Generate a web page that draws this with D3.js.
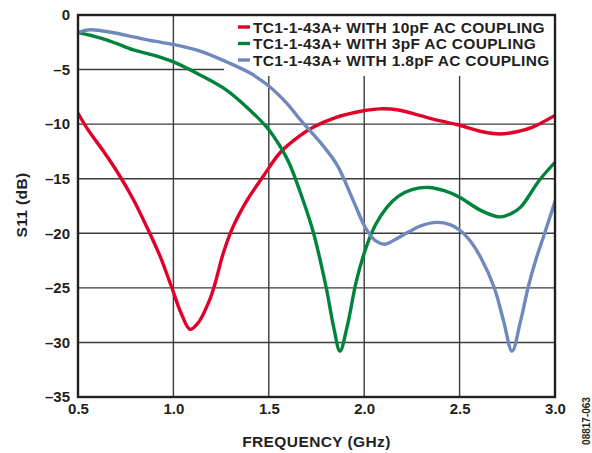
<!DOCTYPE html>
<html><head><meta charset="utf-8">
<script src="https://cdn.jsdelivr.net/npm/d3@7"></script>
<style>body{margin:0;background:#fff}svg{display:block}text{font-family:"Liberation Sans",Arial,sans-serif;font-weight:bold;fill:#231f20}</style>
</head><body><svg id="c" width="592" height="453"></svg>
<script>
const seriesNames = ["TC1-1-43A+ WITH 10pF AC COUPLING","TC1-1-43A+ WITH 3pF AC COUPLING","TC1-1-43A+ WITH 1.8pF AC COUPLING"];
const seriesColors = ["#e1002a","#00833d","#7089bc"];
const xTicks = [0.5,1.0,1.5,2.0,2.5,3.0];
const yTicks = [0,-5,-10,-15,-20,-25,-30,-35];
const red10pF = [[0.5,-9.0],[0.552,-10.5],[0.63,-12.4],[0.71,-14.5],[0.79,-16.9],[0.86,-19.4],[0.93,-22.1],[0.99,-24.9],[1.04,-27.3],[1.087,-28.8],[1.13,-28.2],[1.19,-26.1],[1.22,-24.5],[1.26,-21.9],[1.31,-19.5],[1.385,-17.0],[1.47,-14.8],[1.56,-12.6],[1.66,-11.1],[1.73,-10.3],[1.85,-9.4],[1.99,-8.8],[2.08,-8.6],[2.18,-8.7],[2.29,-9.2],[2.40,-9.7],[2.5,-10.1],[2.62,-10.7],[2.71,-10.9],[2.80,-10.7],[2.88,-10.3],[3.0,-9.2]];
const green3pF = [[0.5,-1.6],[0.615,-2.1],[0.70,-2.6],[0.79,-3.2],[0.90,-3.7],[1.0,-4.3],[1.14,-5.5],[1.28,-6.9],[1.40,-8.7],[1.49,-10.3],[1.54,-11.5],[1.575,-12.5],[1.61,-13.7],[1.66,-16.0],[1.73,-19.7],[1.80,-24.9],[1.84,-28.6],[1.873,-30.8],[1.91,-28.6],[1.96,-24.3],[2.01,-21.3],[2.06,-19.2],[2.12,-17.6],[2.18,-16.6],[2.25,-16.0],[2.34,-15.8],[2.42,-16.1],[2.50,-16.7],[2.61,-17.9],[2.71,-18.5],[2.77,-18.2],[2.82,-17.6],[2.92,-15.1],[3.0,-13.5]];
const blue1p8pF = [[0.5,-1.6],[0.563,-1.35],[0.68,-1.6],[0.79,-2.0],[0.90,-2.4],[1.0,-2.7],[1.14,-3.3],[1.28,-4.3],[1.40,-5.3],[1.5,-6.5],[1.595,-8.1],[1.66,-9.5],[1.716,-10.6],[1.79,-12.1],[1.86,-13.8],[1.94,-16.9],[2.01,-19.6],[2.06,-20.7],[2.11,-21.0],[2.16,-20.6],[2.22,-20.0],[2.30,-19.3],[2.38,-19.0],[2.45,-19.2],[2.50,-19.7],[2.56,-20.8],[2.61,-22.2],[2.68,-24.9],[2.73,-28.0],[2.775,-30.8],[2.82,-28.0],[2.86,-24.9],[2.90,-22.4],[2.94,-20.3],[3.0,-17.1]];
const seriesData = [red10pF, green3pF, blue1p8pF];

const svg = d3.select("#c");
const L=78,R=555,T=15,B=397;
const x = d3.scaleLinear().domain([0.5,3.0]).range([L,R]);
const y = d3.scaleLinear().domain([-35,0]).range([B,T]);

// grid
const g = svg.append("g");
g.selectAll(".vg").data(xTicks.slice(1,-1)).enter().append("line")
 .attr("x1",d=>x(d)).attr("x2",d=>x(d)).attr("y1",T).attr("y2",B)
 .attr("stroke","#3b3b3b").attr("stroke-width",1.4);
g.selectAll(".hg").data(yTicks.slice(1,-1)).enter().append("line")
 .attr("x1",L).attr("x2",R).attr("y1",d=>y(d)).attr("y2",d=>y(d))
 .attr("stroke","#3b3b3b").attr("stroke-width",1.4);

// legend background box (covers grid)
svg.append("rect").attr("x",224).attr("y",T).attr("width",R-224).attr("height",61).attr("fill","#fff");

// curves
const line = d3.line().x(d=>x(d[0])).y(d=>y(d[1])).curve(d3.curveCatmullRom.alpha(0.5));
svg.append("clipPath").attr("id","cp").append("rect").attr("x",L).attr("y",T).attr("width",R-L).attr("height",B-T);
const lines = svg.append("g").attr("clip-path","url(#cp)");
seriesData.forEach((s,i)=>{
  lines.append("path").datum(s).attr("d",line).attr("fill","none")
   .attr("stroke",seriesColors[i]).attr("stroke-width",3.4).attr("stroke-linejoin","round").attr("stroke-linecap","round");
});

// frame
svg.append("rect").attr("x",L).attr("y",T).attr("width",R-L).attr("height",B-T)
 .attr("fill","none").attr("stroke","#231f20").attr("stroke-width",2.4);

// axes labels via d3 axes (domain/ticks hidden)
const fmtY = d=> d===0?"0":"\u2013"+Math.abs(d);
const ya = svg.append("g").attr("transform",`translate(${L},0)`)
 .call(d3.axisLeft(y).tickValues(yTicks).tickFormat(fmtY).tickSize(0).tickPadding(8));
ya.select(".domain").remove();
ya.selectAll("text").attr("font-size",15).attr("font-family","Liberation Sans, Arial, sans-serif").attr("font-weight","bold").attr("fill","#231f20");
const xa = svg.append("g").attr("transform",`translate(0,${B})`)
 .call(d3.axisBottom(x).tickValues(xTicks).tickFormat(d3.format(".1f")).tickSize(0).tickPadding(6));
xa.select(".domain").remove();
xa.selectAll("text").attr("font-size",15).attr("font-family","Liberation Sans, Arial, sans-serif").attr("font-weight","bold").attr("fill","#231f20");

// titles
svg.append("text").attr("x",(L+R)/2).attr("y",447).attr("text-anchor","middle").attr("font-size",15.5).attr("letter-spacing",0.4).text("FREQUENCY (GHz)");
svg.append("text").attr("transform","translate(27,205) rotate(-90)").attr("text-anchor","middle").attr("font-size",15.5).attr("letter-spacing",0.4).text("S11 (dB)");
svg.append("text").attr("transform","translate(590,421) rotate(-90)").attr("text-anchor","middle").attr("font-size",10).attr("font-weight","normal").text("08817-063");

// legend
const lg = svg.append("g");
seriesNames.forEach((n,i)=>{
  const yy = 27 + i*16.5;
  lg.append("line").attr("x1",238).attr("x2",250).attr("y1",yy).attr("y2",yy).attr("stroke",seriesColors[i]).attr("stroke-width",3.4);
  lg.append("text").attr("x",253).attr("y",yy+5.5).attr("font-size",15.5).attr("letter-spacing",0.3).text(n);
});
</script></body></html>
